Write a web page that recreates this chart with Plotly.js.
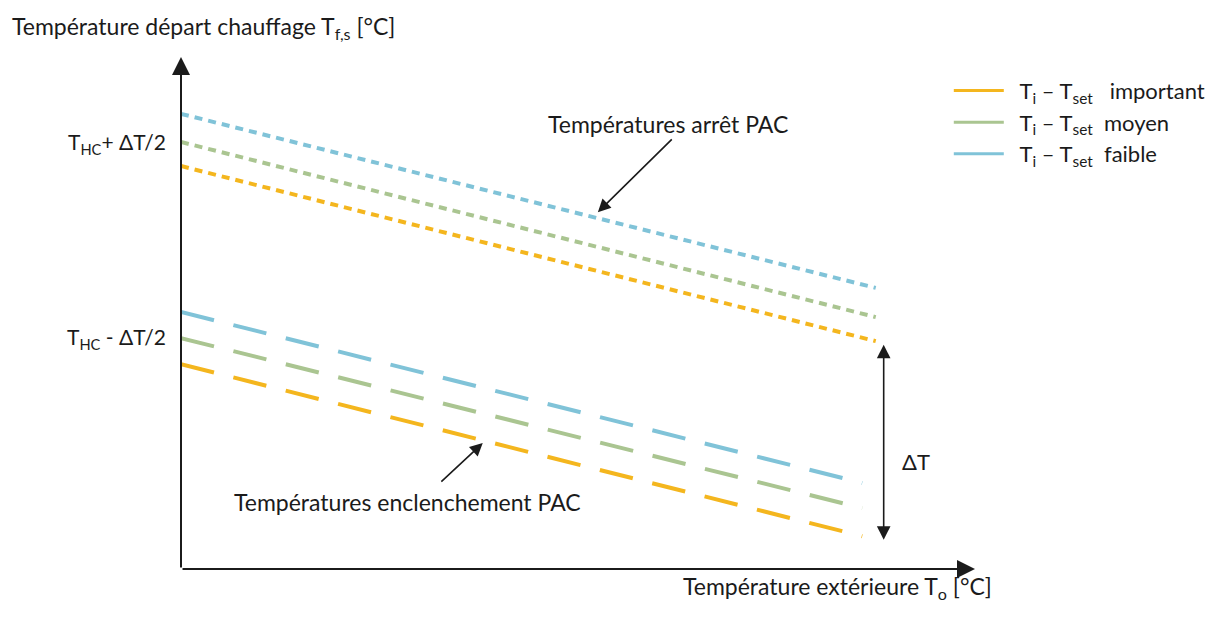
<!DOCTYPE html>
<html><head><meta charset="utf-8">
<script src="https://cdn.plot.ly/plotly-3.0.1.min.js"></script>
<style>body{margin:0;background:#fff}#chart{width:1224px;height:617px}</style>
</head><body><div id="chart"></div>
<script>
// Outdoor temperature axis (relative units, 0 = origin)
const xStop = [0, 87.5];
const xStart = [0, 85.8];
// Stop temperatures (dotted) for each Ti - Tset level
const stopFaible = [88.9, 54.9];
const stopMoyen = [83.4, 49.2];
const stopImportant = [78.7, 44.5];
// Start temperatures (dashed)
const startFaible = [50.2, 16.8];
const startMoyen = [45.1, 11.9];
const startImportant = [40.0, 6.4];
// Y tick labels
const yTickVals = [83.2, 45.1];
const yTickText = ['T<sub>HC</sub>+ ΔT/2', 'T<sub>HC</sub> - ΔT/2'];
const legendNames = ['\u00a0\u00a0T<sub>i</sub> – T<sub>set</sub>\u00a0\u00a0 important', '\u00a0\u00a0T<sub>i</sub> – T<sub>set</sub>\u00a0 moyen', '\u00a0\u00a0T<sub>i</sub> – T<sub>set</sub>\u00a0 faible'];

const cOrange = '#F4B61E', cGreen = '#AAC591', cBlue = '#80C3D8';
const FONT = 'Lato, "Open Sans", sans-serif';
const dotDash = '8px,6px', longDash = '34px,20px';
const FS = 23;

function tr(x, y, color, dash) {
  return {x: x, y: y, mode: 'lines', line: {color: color, width: 4, dash: dash}, showlegend: false, hoverinfo: 'skip'};
}
function leg(name, color) {
  return {x: [null], y: [null], mode: 'lines', name: name, line: {color: color, width: 3}};
}
const data = [
  tr(xStop, stopFaible, cBlue, dotDash),
  tr(xStop, stopMoyen, cGreen, dotDash),
  tr(xStop, stopImportant, cOrange, dotDash),
  tr(xStart, startFaible, cBlue, longDash),
  tr(xStart, startMoyen, cGreen, longDash),
  tr(xStart, startImportant, cOrange, longDash),
  leg(legendNames[0], cOrange),
  leg(legendNames[1], cGreen),
  leg(legendNames[2], cBlue)
];

const dark = '#1b1b1b';
function arrow(x, y, ax, ay, opts) {
  return Object.assign({x: x, y: y, ax: ax, ay: ay, xref: 'x', yref: 'y', axref: 'x', ayref: 'y', text: '',
    showarrow: true, arrowhead: 2, arrowsize: 1.6, arrowwidth: 2, arrowcolor: dark, standoff: 0, startstandoff: 0}, opts || {});
}
const annotations = [
  arrow(0, 100, 0, 0, {arrowsize: 1.8}),
  arrow(100, 0, 0, 0, {arrowsize: 1.8}),
  arrow(88.5, 5.7, 88.5, 44.1, {arrowside: 'end+start', arrowwidth: 1.6, arrowsize: 1.7}),
  arrow(52.5, 69.7, 62.0, 84.2, {arrowwidth: 1.6, arrowsize: 1.6}),
  arrow(38.0, 24.6, 32.6, 16.8, {arrowwidth: 1.6, arrowsize: 1.6}),
  {x: 61.3, y: 86.9, xref: 'x', yref: 'y', text: 'Températures arrêt PAC', showarrow: false, font: {family: FONT, size: FS, color: dark}},
  {x: 28.5, y: 13.1, xref: 'x', yref: 'y', text: 'Températures enclenchement PAC', showarrow: false, font: {family: FONT, size: FS, color: dark}},
  {x: 92.6, y: 20.9, xref: 'x', yref: 'y', text: 'ΔT', showarrow: false, font: {family: FONT, size: 22, color: dark}},
  {x: 82.7, y: -0.0703, xref: 'x', yref: 'paper', text: 'Température extérieure T<sub>o</sub> [°C]', showarrow: false, font: {family: FONT, size: FS, color: dark}}
];

const layout = {
  width: 1224, height: 617,
  margin: {l: 181, r: 249, t: 57, b: 48},
  paper_bgcolor: '#fff', plot_bgcolor: '#fff',
  font: {family: FONT, size: FS, color: dark},
  title: {text: 'Température départ chauffage T<sub>f,s</sub> [°C]', x: 12/1224, xanchor: 'left', xref: 'container', y: 1 - 27/617, yanchor: 'middle', yref: 'container', font: {family: FONT, size: FS, color: dark}},
  xaxis: {range: [0, 100], showgrid: false, zeroline: false, showticklabels: false, ticks: '', fixedrange: true},
  yaxis: {range: [0, 100], showgrid: false, zeroline: false, tickvals: yTickVals, ticktext: yTickText, ticks: '', ticklabelstandoff: 14, tickfont: {family: FONT, size: 21, color: dark}, fixedrange: true},
  legend: {x: 0.967, y: 0.975, xanchor: 'left', yanchor: 'top', itemwidth: 50, font: {family: FONT, size: 22, color: dark}, bgcolor: 'rgba(0,0,0,0)', tracegroupgap: 0},
  annotations: annotations,
  showlegend: true
};
Plotly.newPlot('chart', data, layout, {staticPlot: true});
</script></body></html>
